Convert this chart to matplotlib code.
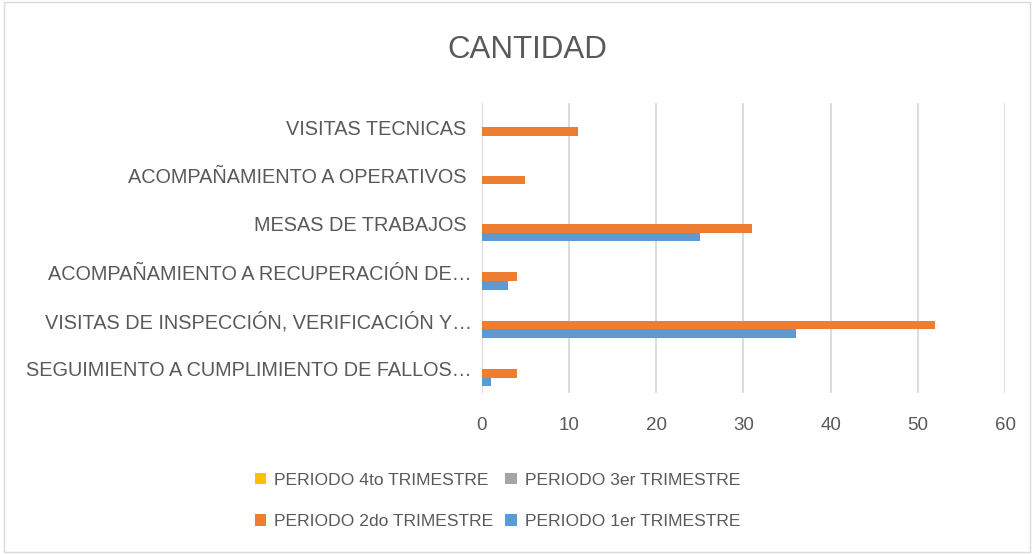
import numpy as np
import matplotlib.pyplot as plt
from matplotlib.patches import Rectangle

# categories from bottom to top, as they appear in the chart
categorias = ['SEGUIMIENTO A CUMPLIMIENTO DE FALLOS…',
              'VISITAS DE INSPECCIÓN, VERIFICACIÓN Y…',
              'ACOMPAÑAMIENTO A RECUPERACIÓN DE…',
              'MESAS DE TRABAJOS ',
              'ACOMPAÑAMIENTO A OPERATIVOS ',
              'VISITAS TECNICAS ']

trim1 = [1, 36, 3, 25, 0, 0]
trim2 = [4, 52, 4, 31, 5, 11]
trim3 = [0, 0, 0, 0, 0, 0]
trim4 = [0, 0, 0, 0, 0, 0]

series = ['PERIODO 1er TRIMESTRE', 'PERIODO 2do TRIMESTRE',
          'PERIODO 3er TRIMESTRE', 'PERIODO 4to TRIMESTRE']
colores = ['#5B9BD5', '#ED7D31', '#A5A5A5', '#FFC000']
gris = '#595959'

plt.rcParams['font.family'] = ['Liberation Sans', 'DejaVu Sans']

fig = plt.figure(figsize=(10.34, 5.54), dpi=100)
ax = fig.add_axes([0.466, 0.2906, 0.506, 0.5234])

y = np.arange(len(categorias))
h = 0.18
barras = []
for i, (vals, nombre, c) in enumerate(zip([trim1, trim2, trim3, trim4], series, colores)):
    b = ax.barh(y + (i - 1.5) * h, vals, height=h, color=c, label=nombre, zorder=3)
    barras.append(b)

ax.set_xlim(0, 60)
ax.set_ylim(-0.5, len(categorias) - 0.5)
ax.set_xticks(np.arange(0, 61, 10))
ax.set_yticks(y)
ax.set_yticklabels(categorias)
ax.grid(axis='x', color='#D9D9D9', linewidth=1.3, zorder=0)
for s in ax.spines.values():
    s.set_visible(False)
ax.tick_params(axis='y', length=0, labelsize=14.3, labelcolor=gris, pad=7)
ax.tick_params(axis='x', length=0, labelsize=13.5, labelcolor=gris, pad=17)

fig.text(0.51, 0.91, 'CANTIDAD', ha='center', va='center', fontsize=22.5, color=gris)

# legend: row 1 -> 4to, 3er ; row 2 -> 2do, 1er
orden = [barras[3], barras[1], barras[2], barras[0]]
fig.legend(orden, [b.get_label() for b in orden], ncol=2, loc='center',
           bbox_to_anchor=(0.481, 0.096), frameon=False, fontsize=12.6,
           labelcolor=gris, handlelength=0.65, handleheight=0.65,
           handletextpad=0.45, columnspacing=0.7, labelspacing=1.5)

fig.patches.append(Rectangle((0.004, 0.004), 0.992, 0.992, transform=fig.transFigure,
                             fill=False, edgecolor='#D9D9D9', linewidth=1))

plt.savefig('out.png', dpi=100)
